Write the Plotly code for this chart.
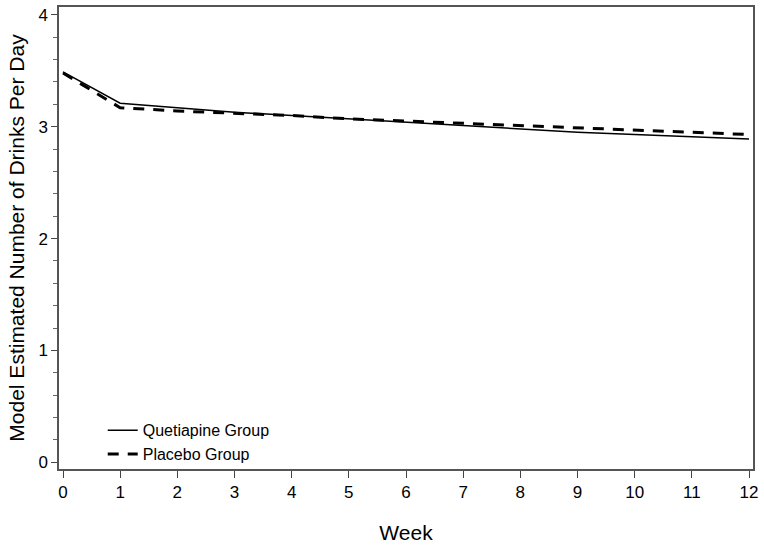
import plotly.graph_objects as go

weeks = list(range(13))
quetiapine = [3.49, 3.21, 3.17, 3.13, 3.10, 3.07, 3.04, 3.01, 2.98, 2.95, 2.93, 2.91, 2.89]
placebo = [3.48, 3.17, 3.14, 3.12, 3.10, 3.07, 3.05, 3.03, 3.01, 2.99, 2.97, 2.95, 2.93]
x_ticks = list(range(13))
y_ticks = [0, 1, 2, 3, 4]

FONT = "Liberation Sans, Arial, sans-serif"

fig = go.Figure()
fig.add_trace(go.Scatter(x=weeks, y=quetiapine, mode="lines", name="Quetiapine Group",
                         line=dict(color="black", width=1.5)))
fig.add_trace(go.Scatter(x=weeks, y=placebo, mode="lines", name="Placebo Group",
                         line=dict(color="black", width=3, dash="11px,9px")))

fig.update_layout(
    width=764, height=547,
    margin=dict(l=59, r=11, t=7, b=78),
    paper_bgcolor="white", plot_bgcolor="white",
    font=dict(family=FONT, color="black", size=17),
    showlegend=True,
    legend=dict(x=0.063, y=-0.005, xanchor="left", yanchor="bottom",
                bgcolor="rgba(0,0,0,0)", font=dict(size=16), tracegroupgap=0),
    xaxis=dict(range=[-0.07, 12.07], tickvals=x_ticks, ticktext=[str(v) for v in x_ticks],
               ticks="outside", ticklen=7, tickwidth=1.2, tickcolor="#444",
               showline=True, linecolor="#555", linewidth=1.5, mirror=True,
               showgrid=False, zeroline=False, automargin=False,
               title=dict(text="Week", font=dict(size=21), standoff=24)),
    yaxis=dict(range=[-0.06, 4.07], tickvals=y_ticks, ticktext=[str(v) for v in y_ticks],
               ticks="outside", ticklen=6, tickwidth=1.2, tickcolor="#444",
               showline=True, linecolor="#555", linewidth=1.5, mirror=True,
               showgrid=False, zeroline=False, automargin=False,
               minor=dict(ticks="outside", ticklen=4, dtick=0.2, tickcolor="#666", showgrid=False),
               title=dict(text="Model Estimated Number of Drinks Per Day", font=dict(size=21), standoff=8)),
)

fig.write_html("out.html", config={"displayModeBar": False},
               post_script="document.body.style.margin='0';")
